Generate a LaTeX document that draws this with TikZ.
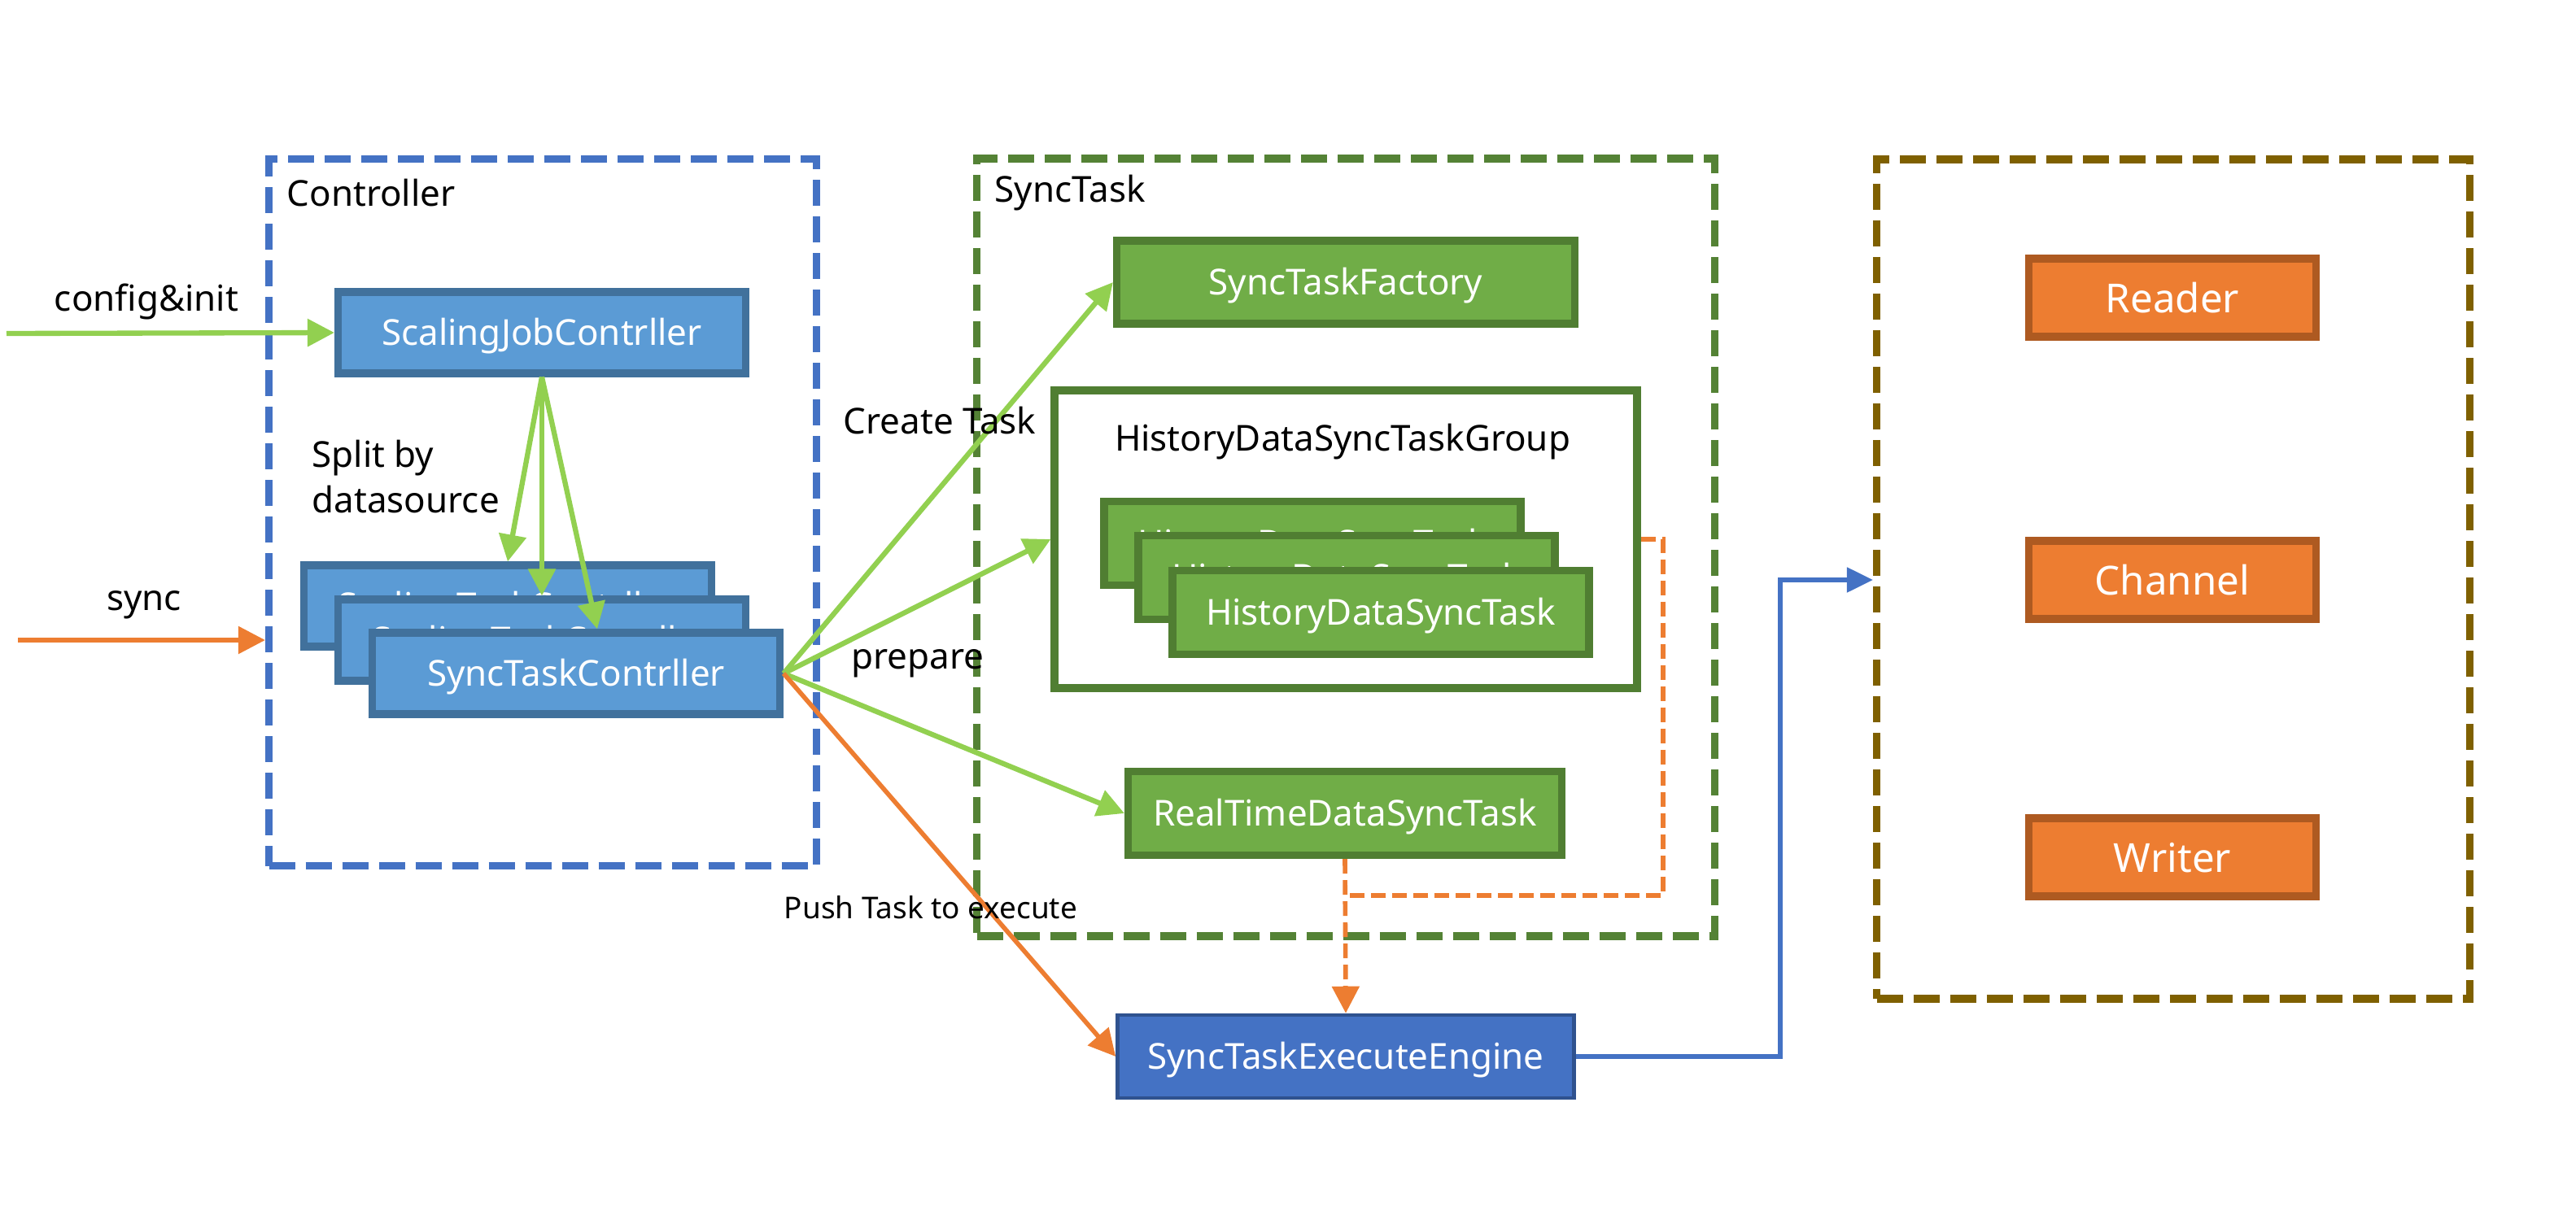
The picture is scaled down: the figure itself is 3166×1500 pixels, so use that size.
\documentclass[tikz,border=0pt]{standalone}
\usepackage{fontspec}
\setmainfont{Noto Sans}
\usetikzlibrary{calc, positioning, arrows.meta}

\definecolor{ctlBlue}{HTML}{4472C4}
\definecolor{boxBlue}{HTML}{5B9BD5}
\definecolor{boxBlueLine}{HTML}{41719C}
\definecolor{taskGreen}{HTML}{70AD47}
\definecolor{taskGreenLine}{HTML}{507E32}
\definecolor{frameGreen}{HTML}{548235}
\definecolor{lightGreen}{HTML}{92D050}
\definecolor{ioOrange}{HTML}{ED7D31}
\definecolor{ioOrangeLine}{HTML}{AE5A21}
\definecolor{engLine}{HTML}{2F528F}
\definecolor{frameOlive}{HTML}{7F6000}

\tikzset{
    dashframe/.style={draw=#1, line width=2.6pt, dash pattern=on 3.2mm off 1.3mm, inner sep=0pt},
    boxtext/.style={text=white, inner sep=0pt, text height=10pt, text depth=1pt,
        font=\fontsize{12.5}{15}\selectfont},
    bluebox/.style={boxtext, draw=boxBlueLine, fill=boxBlue, line width=2.6pt,
        minimum width=50.1mm, minimum height=10mm},
    greenbox/.style={boxtext, draw=taskGreenLine, fill=taskGreen, line width=2.6pt,
        minimum height=10.3mm},
    orangebox/.style={boxtext, draw=ioOrangeLine, fill=ioOrange, line width=2.6pt,
        minimum width=35.3mm, minimum height=9.6mm, text height=11.8pt,
        font=\fontsize{14}{17}\selectfont},
    lbl/.style={inner sep=0pt, font=\fontsize{12.5}{15}\selectfont},
    tip/.style={-{Triangle[length=3.3mm, width=3.3mm]}},
    greenarrow/.style={tip, draw=lightGreen, line width=1.8pt},
    orangearrow/.style={tip, draw=ioOrange, line width=1.6pt},
    orangedash/.style={draw=ioOrange, line width=1.6pt, dash pattern=on 1.8mm off 0.8mm},
    bluelink/.style={draw=ctlBlue, line width=1.5pt}
}

\begin{document}
\begin{tikzpicture}[x=0.1mm, y=-0.1mm]
    \useasboundingbox (0,0) rectangle (3166,1500);
    % dashed frames
    \node[dashframe=ctlBlue, minimum width=67.3mm, minimum height=86.9mm] (nCtrl) at (667,630) {};
    \node[dashframe=frameGreen, minimum width=90.7mm, minimum height=95.6mm] (nTask) at (1654,673) {};
    \node[dashframe=frameOlive, minimum width=72.9mm, minimum height=103.2mm] (nStore) at (2671,712) {};
    \node[lbl, anchor=west] (lCtrl) at (352,237) {Controller};
    \node[lbl, anchor=west] (lTask) at (1222,237) {SyncTask};

    % controller part
    \node[bluebox] (nScaleJob) at (666,409) {ScalingJobContrller};
    \foreach \n/\x/\y/\t in
    {nSyncCtlA/624/745/ScalingTaskContrller,
        nSyncCtlB/666/787/ScalingTaskContrller,
        nSyncCtl/708/828/SyncTaskContrller
    }
    {
        \node[bluebox] (\n) at (\x,\y) {\t};
    };

    % sync task part
    \node[greenbox, minimum width=56.3mm, minimum height=10.2mm] (nFactory) at (1654,347) {SyncTaskFactory};
    \node[draw=taskGreenLine, fill=white, line width=2.6pt, minimum width=71.6mm,
        minimum height=36.6mm] (nGroup) at (1654,663) {};
    \node[lbl] (lGroup) at (1650,543) {HistoryDataSyncTaskGroup};
    \foreach \n/\x/\y in {nHistA/1613/668, nHistB/1655/710, nHist/1697/753}
    {
        \node[greenbox, minimum width=51.2mm] (\n) at (\x,\y) {HistoryDataSyncTask};
    };
    \node[greenbox, minimum width=53.3mm] (nRealTime) at (1653,1000) {RealTimeDataSyncTask};
    \node[boxtext, draw=engLine, fill=ctlBlue, line width=1.3pt, minimum width=56.1mm,
        minimum height=10.2mm] (nEngine) at (1654,1299) {SyncTaskExecuteEngine};

    % reader / channel / writer
    \foreach \n/\y/\t in {nReader/366/Reader, nChannel/713/Channel, nWriter/1054/Writer}
    {
        \node[orangebox] (\n) at (2670,\y) {\t};
    };

    % inputs
    \coordinate (cCfgPt) at (8,410);
    \coordinate (cSyncPt) at (22,787);
    \draw[greenarrow] (cCfgPt) -- (nScaleJob.west);
    \draw[orangearrow] (cSyncPt) -- (cSyncPt -| nCtrl.west);
    \node[lbl] (lCfg) at (180,371) {config\&init};
    \node[lbl] (lSync) at (177,744) {sync};

    % split
    \draw[greenarrow] (nScaleJob.south) -- (nSyncCtlA.north);
    \draw[greenarrow] (nScaleJob.south) -- (nSyncCtlB.north);
    \draw[greenarrow] (nScaleJob.south) -- ([xshift=2.6mm]nSyncCtl.north);
    \node[lbl, anchor=west, align=left, font=\fontsize{12.5}{16.2}\selectfont] (lSplit) at (383,586) {Split by\\datasource};

    % tasks
    \draw[greenarrow] (nSyncCtl.east) -- (nFactory.west);
    \draw[greenarrow] (nSyncCtl.east) -- (nGroup.west);
    \draw[greenarrow] (nSyncCtl.east) -- (nRealTime.west);
    \draw[orangearrow] (nSyncCtl.east) -- (nEngine.west);
    \node[lbl] (lCreate) at (1155,517) {Create Task};
    \node[lbl] (lPrepare) at (1128,816) {prepare};
    \node[lbl, font=\fontsize{10.5}{13}\selectfont] (lPush) at (1144,1116) {Push Task to execute};

    % to engine
    \coordinate (cTurnPt) at (2044,1101);
    \draw[orangedash] (nGroup.east) -| (cTurnPt) -- (cTurnPt -| nRealTime.south);
    \draw[orangedash, tip] (nRealTime.south) -- (nEngine.north);

    % engine to reader/channel/writer
    \coordinate (cBendPt) at (2188,1299);
    \draw[bluelink, -{Triangle[length=3.2mm, width=3mm]}] (nEngine.east) -- (nEngine.east -| cBendPt) |- (nChannel -| nStore.west);
\end{tikzpicture}
\end{document}
